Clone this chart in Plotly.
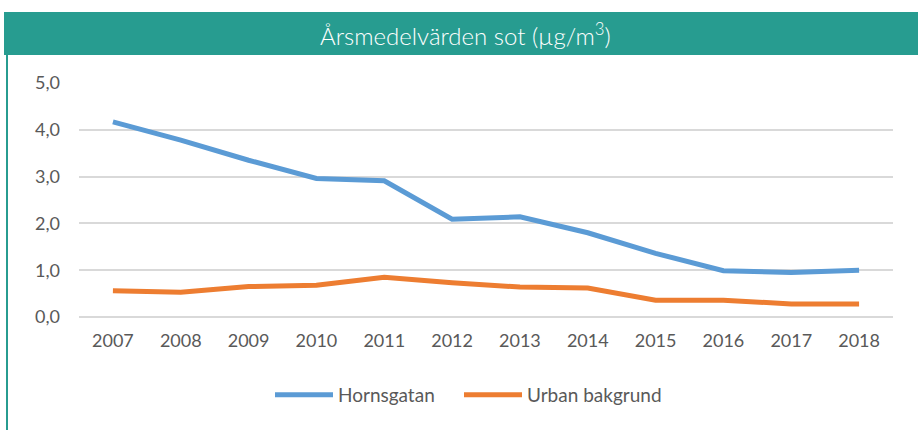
import plotly.graph_objects as go

years = ["2007", "2008", "2009", "2010", "2011", "2012", "2013", "2014", "2015", "2016", "2017", "2018"]
hornsgatan = [4.17, 3.78, 3.35, 2.96, 2.91, 2.09, 2.14, 1.80, 1.36, 0.99, 0.95, 1.00]
urban = [0.56, 0.53, 0.65, 0.68, 0.85, 0.73, 0.64, 0.62, 0.36, 0.36, 0.28, 0.28]
y_ticks = [0, 1, 2, 3, 4, 5]
y_labels = ["0,0", "1,0", "2,0", "3,0", "4,0", "5,0"]

W, H = 918, 430
L, R, T, B = 79, 25, 83, 113
pw, ph = W - L - R, H - T - B

def px_x(p):
    return (p - L) / pw

def px_y(p):
    return (H - B - p) / ph

fig = go.Figure()
fig.add_trace(go.Scatter(x=years, y=hornsgatan, mode="lines", name="Hornsgatan",
                         line=dict(color="#5B9BD5", width=5), legend="legend"))
fig.add_trace(go.Scatter(x=years, y=urban, mode="lines", name="Urban bakgrund",
                         line=dict(color="#ED7D31", width=5), legend="legend2"))

fig.add_shape(type="rect", xref="paper", yref="paper",
              x0=px_x(4), x1=px_x(930), y0=px_y(55), y1=px_y(12),
              fillcolor="#279C90", line_width=0, layer="below")
fig.add_shape(type="line", xref="paper", yref="paper",
              x0=px_x(7), x1=px_x(7), y0=px_y(55), y1=px_y(440),
              line=dict(color="#279C90", width=2))
fig.add_annotation(xref="paper", yref="paper", x=px_x(465), y=px_y(34),
                   text="Årsmedelvärden sot (µg/m<sup>3</sup>)", showarrow=False,
                   font=dict(family="Lato", size=24, color="white", weight=300),
                   xanchor="center", yanchor="middle")

legend_common = dict(orientation="h", yanchor="middle", font=dict(size=19, color="#595959"),
                     itemwidth=58, bgcolor="rgba(0,0,0,0)")

fig.update_layout(
    width=W, height=H,
    margin=dict(l=L, r=R, t=T, b=B),
    paper_bgcolor="white", plot_bgcolor="white",
    font=dict(family="Lato", size=18, color="#595959"),
    showlegend=True,
    legend=dict(x=px_x(270), y=px_y(395), xanchor="left", **legend_common),
    legend2=dict(x=px_x(459), y=px_y(395), xanchor="left", **legend_common),
    xaxis=dict(type="category", range=[-0.5, 11.5], showgrid=False, showline=False,
               ticks="", ticklabelstandoff=11, tickfont=dict(size=18, color="#595959")),
    yaxis=dict(range=[0, 5.0], tickvals=y_ticks, ticktext=y_labels,
               showgrid=True, gridcolor="#D9D9D9", gridwidth=1.5,
               zeroline=True, zerolinecolor="#D9D9D9", zerolinewidth=1.5,
               showline=False, ticks="", ticklabelstandoff=18,
               tickfont=dict(size=18, color="#595959")),
)

fig.write_html("out.html", config={"displayModeBar": False},
               post_script="document.body.style.margin='0px';")
